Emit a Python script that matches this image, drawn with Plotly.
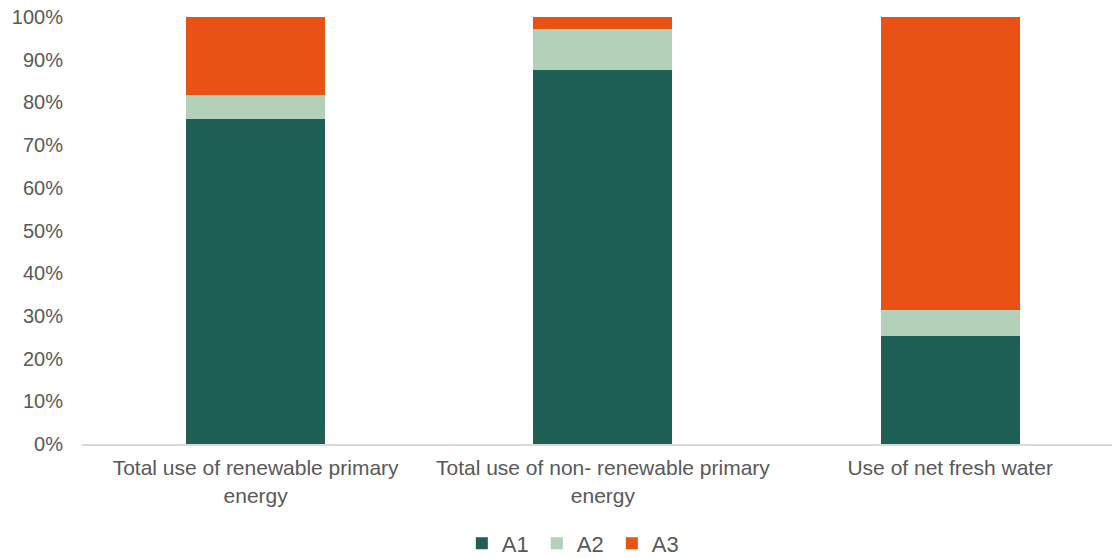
import plotly.graph_objects as go

categories = ["Total use of renewable primary<br>energy",
              "Total use of non- renewable primary<br>energy",
              "Use of net fresh water"]
a1 = [76.2, 87.5, 25.3]
a2 = [5.5, 9.8, 6.0]
a3 = [18.3, 2.7, 68.7]
series = [("A1", a1, "#1F5F55"), ("A2", a2, "#B3D1B8"), ("A3", a3, "#E85215")]
yticks = list(range(0, 101, 10))

fig = go.Figure()
for name, vals, color in series:
    fig.add_trace(go.Bar(name=name, x=categories, y=vals, marker_color=color,
                         marker_line_width=0))

fig.update_layout(
    barmode="stack",
    bargap=0.6,
    width=1112, height=558,
    margin=dict(l=82, r=0, t=17, b=114, autoexpand=False),
    paper_bgcolor="white", plot_bgcolor="white",
    font=dict(family="Liberation Sans, Arial, sans-serif", size=20, color="#595959"),
    legend=dict(orientation="h", x=0.478, xanchor="center", y=-0.233, yanchor="middle",
                font=dict(size=22, color="#595959"), itemwidth=30,
                entrywidth=30, entrywidthmode="pixels",
                traceorder="normal"),
    showlegend=True,
)
fig.update_yaxes(range=[0, 100], tickvals=yticks, ticktext=[f"{v}%" for v in yticks],
                 showgrid=False, zeroline=False, showline=False,
                 ticklabelstandoff=18, automargin=False)
fig.update_xaxes(showline=True, linecolor="#D9D9D9", linewidth=2, showgrid=False,
                 range=[-0.5, 2.466], ticklabelstandoff=4,
                 tickfont=dict(size=21), automargin=False)
fig.write_html("out.html", config={"displayModeBar": False},
               post_script="document.body.style.margin='0';")
